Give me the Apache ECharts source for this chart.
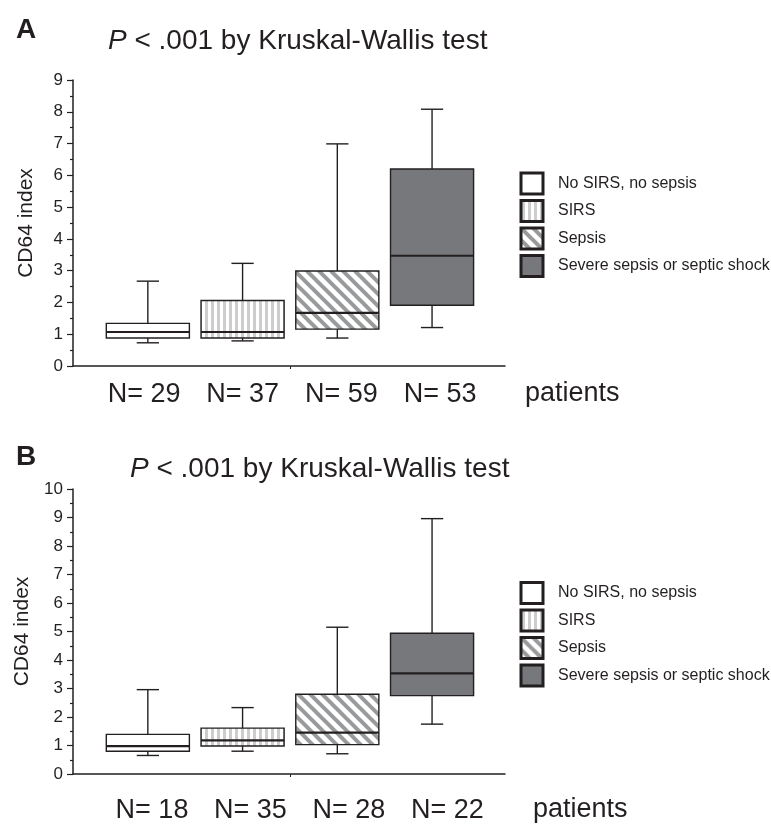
<!DOCTYPE html>
<html>
<head>
<meta charset="utf-8">
<script src="https://cdn.jsdelivr.net/npm/echarts@6/dist/echarts.min.js"></script>
<style>html,body{margin:0;padding:0;background:#fff}#c{width:771px;height:824px}</style>
</head>
<body>
<div id="c"></div>
<script>
// ---- data ----
const groups = ['No SIRS, no sepsis', 'SIRS', 'Sepsis', 'Severe sepsis or septic shock'];
// [low whisker, Q1, median, Q3, high whisker]
const boxA = [
  [0.73, 0.88, 1.07, 1.34, 2.67],
  [0.79, 0.88, 1.07, 2.06, 3.23],
  [0.88, 1.16, 1.67, 2.99, 6.99],
  [1.21, 1.91, 3.47, 6.20, 8.08]
];
const boxB = [
  [0.65, 0.80, 0.98, 1.39, 2.96],
  [0.80, 0.98, 1.18, 1.61, 2.33],
  [0.71, 1.03, 1.45, 2.80, 5.15],
  [1.75, 2.75, 3.53, 4.94, 8.96]
];
const nA = [29, 37, 59, 53];
const nB = [18, 35, 28, 22];
const yMaxA = 9;
const yMaxB = 10;
const titleText = '{i|P} < .001 by Kruskal-Wallis test';
const unitText = 'patients';

// ---- styles ----
const FONT = '"Liberation Sans", Arial, sans-serif';
const TXT = '#231f20';
const BOX_W = 0.877;
const CAP_W = 0.235;

function makeCanvas(w, h) { const c = document.createElement('canvas'); c.width = w; c.height = h; return c; }
function vStripes() {
  const c = makeCanvas(6, 6), g = c.getContext('2d');
  g.fillStyle = '#fff'; g.fillRect(0, 0, 6, 6);
  g.fillStyle = '#cdcdcd'; g.fillRect(1, 0, 3, 6);
  return { image: c, repeat: 'repeat' };
}
function dStripes() {
  const s = 12, c = makeCanvas(s, s), g = c.getContext('2d');
  g.fillStyle = '#fff'; g.fillRect(0, 0, s, s);
  g.strokeStyle = '#999a9c'; g.lineWidth = 4;
  for (const k of [-s, 0, s]) { g.beginPath(); g.moveTo(k - 2, -2); g.lineTo(k + s + 2, s + 2); g.stroke(); }
  return { image: c, repeat: 'repeat' };
}
const fills = ['#ffffff', vStripes(), dStripes(), '#77787b'];

function renderBox(fill) {
  return function (params, api) {
    const x = api.value(0);
    const lo = api.coord([x, api.value(1)]);
    const q1 = api.coord([x, api.value(2)]);
    const med = api.coord([x, api.value(3)]);
    const q3 = api.coord([x, api.value(4)]);
    const hi = api.coord([x, api.value(5)]);
    const bw = api.size([BOX_W, 0])[0];
    const cw = api.size([CAP_W, 0])[0];
    const cx = lo[0];
    const ls = { stroke: '#231f20', lineWidth: 1.4 };
    return {
      type: 'group',
      children: [
        { type: 'line', shape: { x1: cx, y1: hi[1], x2: cx, y2: q3[1] }, style: ls },
        { type: 'line', shape: { x1: cx - cw / 2, y1: hi[1], x2: cx + cw / 2, y2: hi[1] }, style: ls },
        { type: 'line', shape: { x1: cx, y1: q1[1], x2: cx, y2: lo[1] }, style: ls },
        { type: 'line', shape: { x1: cx - cw / 2, y1: lo[1], x2: cx + cw / 2, y2: lo[1] }, style: ls },
        { type: 'rect', shape: { x: cx - bw / 2, y: q3[1], width: bw, height: q1[1] - q3[1] },
          style: { fill: fill, stroke: '#231f20', lineWidth: 1.4 } },
        { type: 'line', shape: { x1: cx - bw / 2, y1: med[1], x2: cx + bw / 2, y2: med[1] },
          style: { stroke: '#231f20', lineWidth: 2.2 } }
      ]
    };
  };
}

function yAxisCfg(gridIndex, max) {
  return {
    type: 'value', gridIndex: gridIndex, min: 0, max: max, interval: 1,
    name: 'CD64 index', nameLocation: 'middle', nameGap: 36,
    nameTextStyle: { fontFamily: FONT, fontSize: 21, color: TXT },
    axisLine: { show: true, lineStyle: { color: '#231f20', width: 1.5 } },
    axisTick: { show: true, length: 6, lineStyle: { color: '#231f20', width: 1.2 } },
    minorTick: { show: true, splitNumber: 2, length: 3, lineStyle: { color: '#231f20', width: 1.2 } },
    axisLabel: { fontFamily: FONT, fontSize: 17, color: TXT, margin: 10 },
    splitLine: { show: false }
  };
}
function xMainCfg(gridIndex) {
  return {
    type: 'value', gridIndex: gridIndex, min: 0.21, max: 4.77, position: 'bottom',
    axisLine: { show: true, onZero: false, lineStyle: { color: '#231f20', width: 1.5 } },
    axisTick: { show: true, customValues: [2.5], length: 3, lineStyle: { color: '#231f20' } },
    axisLabel: { show: false },
    splitLine: { show: false }
  };
}
function xLabelCfg(gridIndex, min, max, counts, margin) {
  return {
    type: 'value', gridIndex: gridIndex, min: min, max: max, position: 'bottom',
    axisLine: { show: false }, axisTick: { show: false }, splitLine: { show: false },
    axisLabel: {
      show: true, customValues: [1, 2, 3, 4], margin: margin,
      fontFamily: FONT, fontSize: 27, color: TXT,
      formatter: v => 'N= ' + counts[Math.round(v) - 1]
    }
  };
}
function legendCfg(top) {
  return {
    orient: 'vertical', left: 519.5, top: top, padding: 0,
    itemWidth: 22, itemHeight: 21, itemGap: 3.5, selectedMode: false,
    icon: 'rect',
    textStyle: { fontFamily: FONT, fontSize: 16, color: TXT, padding: [0, 0, 0, 10] },
    data: groups.map((g, i) => ({ name: g, icon: 'rect',
      itemStyle: { color: fills[i], borderColor: '#231f20', borderWidth: 3 } }))
  };
}

const series = [];
[[boxA, 0, 0], [boxB, 2, 1]].forEach(([box, xi, yi]) => {
  box.forEach((b, i) => {
    series.push({
      type: 'custom', name: groups[i], xAxisIndex: xi, yAxisIndex: yi,
      itemStyle: { color: typeof fills[i] === 'string' ? fills[i] : '#cccccc' },
      renderItem: renderBox(fills[i]),
      encode: { x: 0, y: [1, 2, 3, 4, 5] },
      data: [[i + 1].concat(b)],
      silent: true
    });
  });
});

const titleRich = {
  i: { fontFamily: FONT, fontSize: 28, color: TXT, fontStyle: 'italic' }
};
const option = {
  animation: false,
  backgroundColor: '#fff',
  title: [
    { text: 'A', left: 16, top: 16, padding: 0, textStyle: { fontFamily: FONT, fontSize: 28, fontWeight: 'bold', color: TXT } },
    { text: titleText, left: 108, top: 27, padding: 0, textStyle: { fontFamily: FONT, fontSize: 28, fontWeight: 'normal', color: TXT, rich: titleRich } },
    { text: 'B', left: 16, top: 443, padding: 0, textStyle: { fontFamily: FONT, fontSize: 28, fontWeight: 'normal', fontWeight: 'bold', color: TXT } },
    { text: titleText, left: 130, top: 455, padding: 0, textStyle: { fontFamily: FONT, fontSize: 28, fontWeight: 'normal', color: TXT, rich: titleRich } },
    { text: unitText, left: 525, top: 380, padding: 0, textStyle: { fontFamily: FONT, fontSize: 27, fontWeight: 'normal', color: TXT } },
    { text: unitText, left: 533, top: 796, padding: 0, textStyle: { fontFamily: FONT, fontSize: 27, fontWeight: 'normal', color: TXT } }
  ],
  legend: [legendCfg(171.5), legendCfg(581)],
  grid: [
    { left: 73, top: 80, width: 432, height: 286 },
    { left: 73, top: 489, width: 432, height: 286 }
  ],
  xAxis: [
    xMainCfg(0),
    xLabelCfg(0, 0.28, 4.658, nA, 15),
    xMainCfg(1),
    xLabelCfg(1, 0.198, 4.584, nB, 23)
  ],
  yAxis: [yAxisCfg(0, yMaxA), yAxisCfg(1, yMaxB)],
  series: series
};
const chart = echarts.init(document.getElementById('c'), null, { renderer: 'canvas' });
chart.setOption(option);
</script>
</body>
</html>
